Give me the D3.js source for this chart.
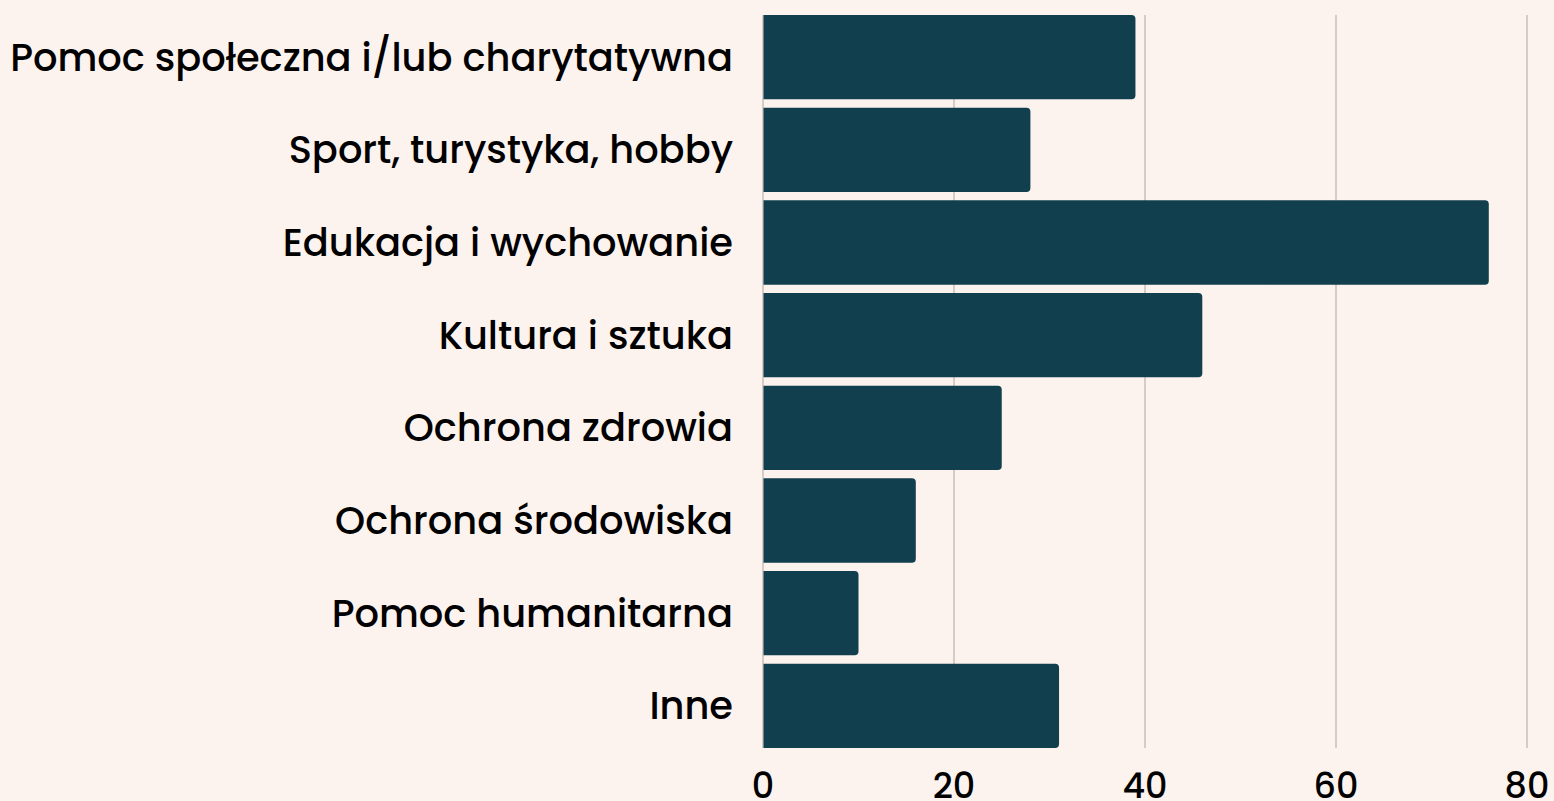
<!DOCTYPE html>
<html>
<head>
<meta charset="utf-8">
<script src="https://cdn.jsdelivr.net/npm/d3@7"></script>
<style>
  html, body { margin: 0; padding: 0; background: #fcf3ee; }
  svg { display: block; }
</style>
</head>
<body>
<svg></svg>
<script>
const width = 1554
const height = 801

// categories and values
const categories = [
  'Pomoc społeczna i/lub charytatywna',
  'Sport, turystyka, hobby',
  'Edukacja i wychowanie',
  'Kultura i sztuka',
  'Ochrona zdrowia',
  'Ochrona środowiska',
  'Pomoc humanitarna',
  'Inne'
]
const values = [39, 28, 76, 46, 25, 16, 10, 31]
const ticks = [0, 20, 40, 60, 80]

const margin = { top: 15, right: 27, bottom: 53, left: 763 }
const fontFamily = 'Poppins, "DejaVu Sans", sans-serif'
const fontSize = 35

const svg = d3.select('svg')
  .attr('width', width)
  .attr('height', height)
  .style('background', '#fcf3ee')

const x = d3.scaleLinear()
  .domain([0, 80])
  .range([margin.left, width - margin.right])

const y = d3.scaleBand()
  .domain(categories)
  .range([margin.top, height - margin.bottom])
  .paddingInner(0.09)
  .paddingOuter(0)

// grid lines
const grid = svg.append('g')
grid.selectAll('line')
  .data(ticks)
  .enter()
  .append('line')
  .attr('x1', d => x(d))
  .attr('x2', d => x(d))
  .attr('y1', margin.top)
  .attr('y2', height - margin.bottom)
  .attr('stroke', '#c8bfba')
  .attr('stroke-width', 1.5)

// bars with rounded right end
const r = 4
const bars = svg.append('g')
categories.forEach(function (c, i) {
  let x0 = x(0) + 0.5
  let x1 = x(values[i])
  let y0 = y(c)
  let h = y.bandwidth()
  bars.append('path')
    .attr('d', 'M' + x0 + ',' + y0 +
      'H' + (x1 - r) +
      'Q' + x1 + ',' + y0 + ' ' + x1 + ',' + (y0 + r) +
      'V' + (y0 + h - r) +
      'Q' + x1 + ',' + (y0 + h) + ' ' + (x1 - r) + ',' + (y0 + h) +
      'H' + x0 + 'Z')
    .attr('fill', '#123f4e')
})

// category labels
const labels = svg.append('g')
  .attr('font-family', fontFamily)
  .attr('font-size', fontSize)
  .attr('font-weight', 500)
  .attr('fill', '#000')
labels.selectAll('text')
  .data(categories)
  .enter()
  .append('text')
  .attr('x', margin.left - 30)
  .attr('y', d => y(d) + y.bandwidth() / 2)
  .attr('dy', '0.35em')
  .attr('text-anchor', 'end')
  .text(d => d)

// fit the longest label to the space the reference uses
let longest = labels.select('text').node().getComputedTextLength()
let scaleF = 723 / longest
if (Math.abs(scaleF - 1) > 0.02) {
  labels.attr('font-size', fontSize * scaleF)
}

// x axis tick labels (cut at the bottom edge, as in the reference)
const axis = svg.append('g')
  .attr('font-family', fontFamily)
  .attr('font-size', fontSize)
  .attr('font-weight', 500)
  .attr('fill', '#000')
axis.selectAll('text')
  .data(ticks)
  .enter()
  .append('text')
  .attr('x', d => x(d))
  .attr('y', 798)
  .attr('text-anchor', 'middle')
  .text(d => d)
</script>
</body>
</html>
